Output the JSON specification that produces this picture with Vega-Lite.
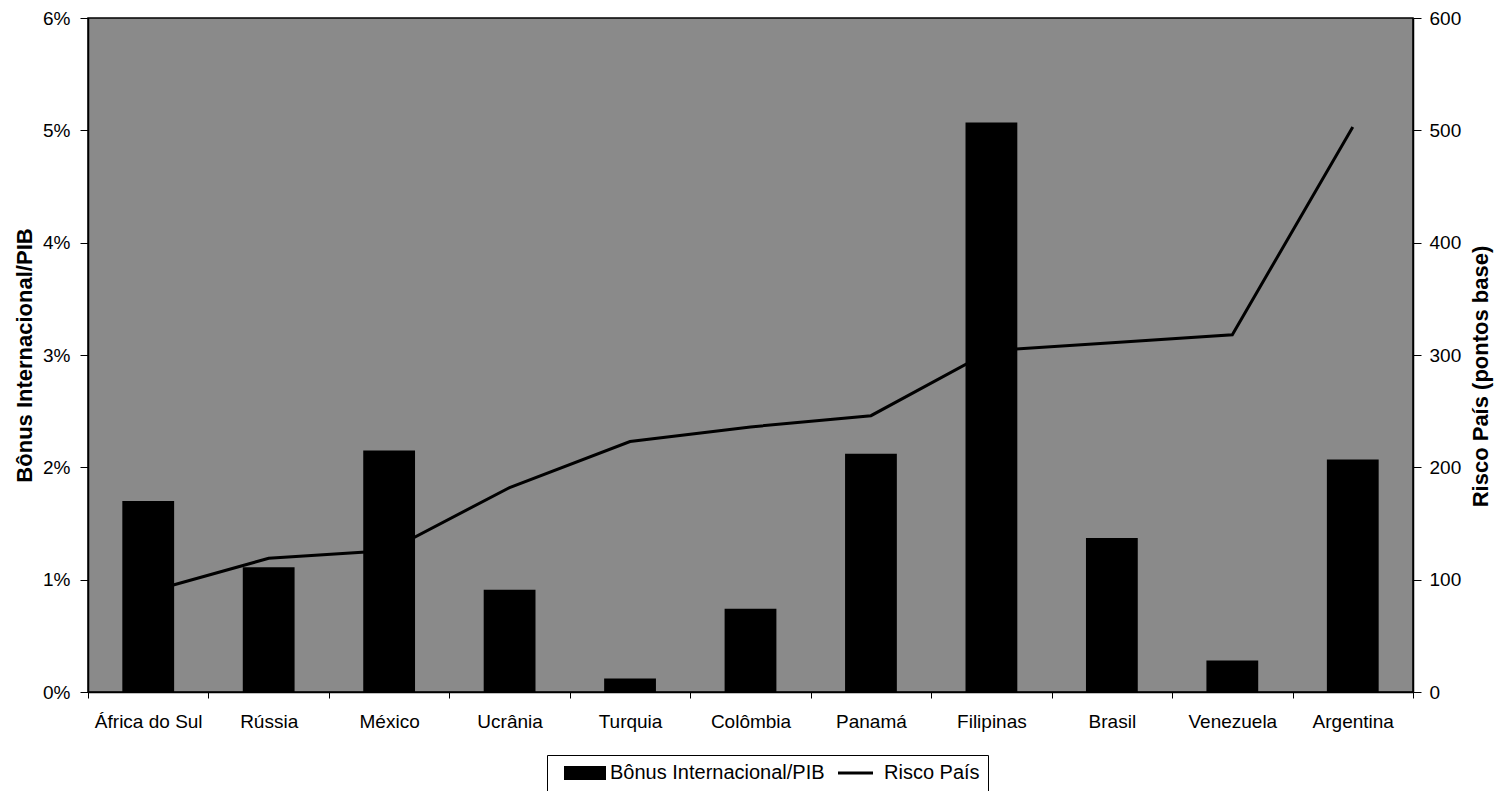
{
  "$schema": "https://vega.github.io/schema/vega-lite/v6.json",
  "autosize": {"type": "none"},
  "width": 1325,
  "height": 674,
  "padding": {"left": 88, "top": 18, "right": 82, "bottom": 99},
  "background": "white",
  "config": {
    "font": "Liberation Sans",
    "view": {"fill": "#8a8a8a", "stroke": "black", "strokeWidth": 1.5},
    "axis": {"labelFont": "Liberation Sans", "labelFontSize": 19, "labelColor": "black", "titleFont": "Liberation Sans", "titleFontSize": 22, "titleFontWeight": "bold", "titleColor": "black", "domainColor": "black", "tickColor": "black", "grid": false, "domainWidth": 1.5}
  },
  "data": {"values": [
    {"pais": "África do Sul", "bonus": 0.0170, "risco": 89},
    {"pais": "Rússia", "bonus": 0.0111, "risco": 119},
    {"pais": "México", "bonus": 0.0215, "risco": 126},
    {"pais": "Ucrânia", "bonus": 0.0091, "risco": 182},
    {"pais": "Turquia", "bonus": 0.0012, "risco": 223},
    {"pais": "Colômbia", "bonus": 0.0074, "risco": 236},
    {"pais": "Panamá", "bonus": 0.0212, "risco": 246},
    {"pais": "Filipinas", "bonus": 0.0507, "risco": 304},
    {"pais": "Brasil", "bonus": 0.0137, "risco": 311},
    {"pais": "Venezuela", "bonus": 0.0028, "risco": 318},
    {"pais": "Argentina", "bonus": 0.0207, "risco": 503}
  ]},
  "encoding": {
    "x": {"field": "pais", "type": "nominal", "sort": null,
      "scale": {"paddingInner": 0, "paddingOuter": 0},
      "axis": {"title": null, "labelAngle": 0, "tickBand": "extent", "tickSize": 6, "labelPadding": 14}}
  },
  "layer": [
    {
      "mark": {"type": "line", "color": "black", "strokeWidth": 3},
      "encoding": {
        "y": {"field": "risco", "type": "quantitative",
          "scale": {"domain": [0, 600], "nice": false},
          "axis": {"orient": "right", "title": "Risco País (pontos base)", "values": [0, 100, 200, 300, 400, 500, 600], "tickSize": 8, "labelPadding": 8, "titleAngle": -90, "titlePadding": 32, "titleY": 358}},
        "color": {"datum": "Risco País"}
      }
    },
    {
      "mark": {"type": "bar", "width": {"band": 0.43}, "color": "black"},
      "encoding": {
        "y": {"field": "bonus", "type": "quantitative",
          "scale": {"domain": [0, 0.06], "nice": false},
          "axis": {"orient": "left", "title": "Bônus Internacional/PIB", "format": ".0%", "values": [0, 0.01, 0.02, 0.03, 0.04, 0.05, 0.06], "tickSize": 8, "labelPadding": 10, "titlePadding": 6}},
        "color": {"datum": "Bônus Internacional/PIB",
          "scale": {"domain": ["Bônus Internacional/PIB", "Risco País"], "range": ["black", "black"]},
          "legend": {"title": null, "orient": "none", "legendX": 459, "legendY": 737, "direction": "horizontal",
            "strokeColor": "black", "fillColor": "white", "padding": 8,
            "labelFontSize": 20, "labelColor": "black", "labelFont": "Liberation Sans", "labelLimit": 500,
            "symbolSize": 400, "symbolOffset": 20, "labelOffset": 15, "columnPadding": 4,
            "encode": {"symbols": {"update": {
              "shape": {"signal": "datum.value === 'Risco País' ? 'M-2.1,0H1.4' : 'M-2.1,-0.7H2.1V0.7H-2.1Z'"},
              "fill": {"signal": "datum.value === 'Risco País' ? 'transparent' : 'black'"},
              "stroke": {"value": "black"},
              "strokeWidth": {"signal": "datum.value === 'Risco País' ? 3 : 0"}
            }}}}}
      }
    }
  ],
  "resolve": {"scale": {"y": "independent"}}
}
